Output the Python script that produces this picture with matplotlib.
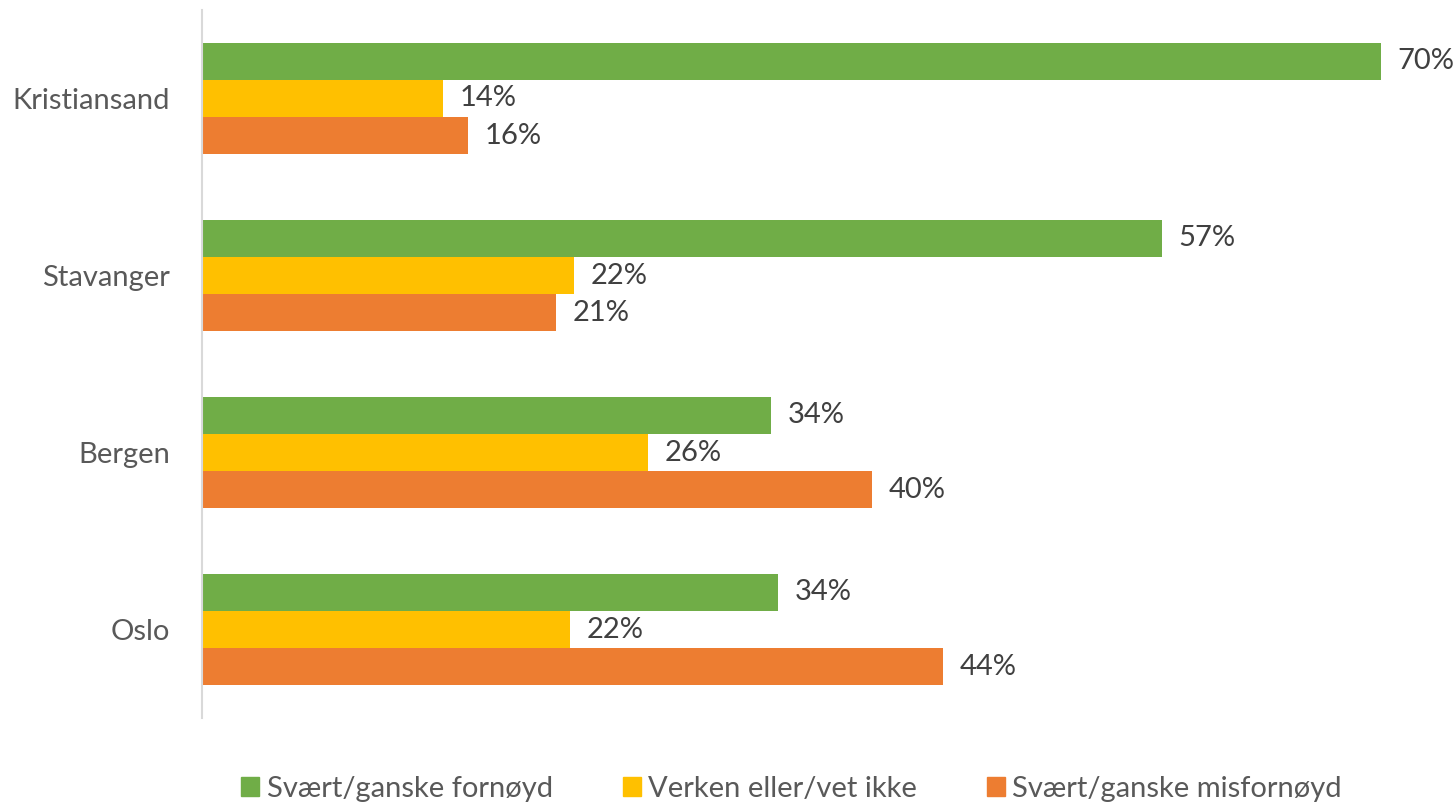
import matplotlib.pyplot as plt
import numpy as np
from matplotlib.patches import Patch

plt.rcParams['font.family'] = ['Lato', 'DejaVu Sans']

# data (top to bottom)
byer = ['Kristiansand', 'Stavanger', 'Bergen', 'Oslo']
fornoyd = [70.0, 57.0, 33.8, 34.2]
verken = [14.3, 22.1, 26.5, 21.85]
misfornoyd = [15.8, 21.0, 39.8, 44.0]
serier = ['Svært/ganske fornøyd', 'Verken eller/vet ikke', 'Svært/ganske misfornøyd']
farger = ['#70AD47', '#FFC000', '#ED7D31']

fs = 21

fig = plt.figure(figsize=(14.55, 8.05), dpi=100)
ax = fig.add_axes([202 / 1455, 87 / 805, 1246 / 1455, 708 / 805])

y = np.arange(len(byer))
h = 0.21
for i, (verdier, farge) in enumerate(zip([fornoyd, verken, misfornoyd], farger)):
    pos = y + (i - 1) * h
    bars = ax.barh(pos, verdier, height=h, color=farge)
    for b, v in zip(bars, verdier):
        ax.text(v + 1.0, b.get_y() + h / 2, f'{v:.0f}%', va='center', ha='left',
                fontsize=fs, color='#404040')

ax.set_xlim(0, 74)
ax.set_ylim(len(byer) - 0.5, -0.5)
ax.set_yticks(y)
ax.set_yticklabels(byer, fontsize=fs, color='#595959')
ax.tick_params(axis='y', length=0, pad=23)
ax.set_xticks([])
for s in ['top', 'right', 'bottom']:
    ax.spines[s].set_visible(False)
ax.spines['left'].set_color('#D9D9D9')
ax.spines['left'].set_linewidth(1.5)

handles = [Patch(color=c, label=l) for c, l in zip(farger, serier)]
fig.legend(handles=handles, loc='center', bbox_to_anchor=(0.544, 0.02), ncol=3,
           frameon=False, fontsize=fs, labelcolor='#595959', handlelength=0.62,
           handleheight=0.62, handletextpad=0.25, columnspacing=2.4)

fig.savefig('out.png', dpi=100)
